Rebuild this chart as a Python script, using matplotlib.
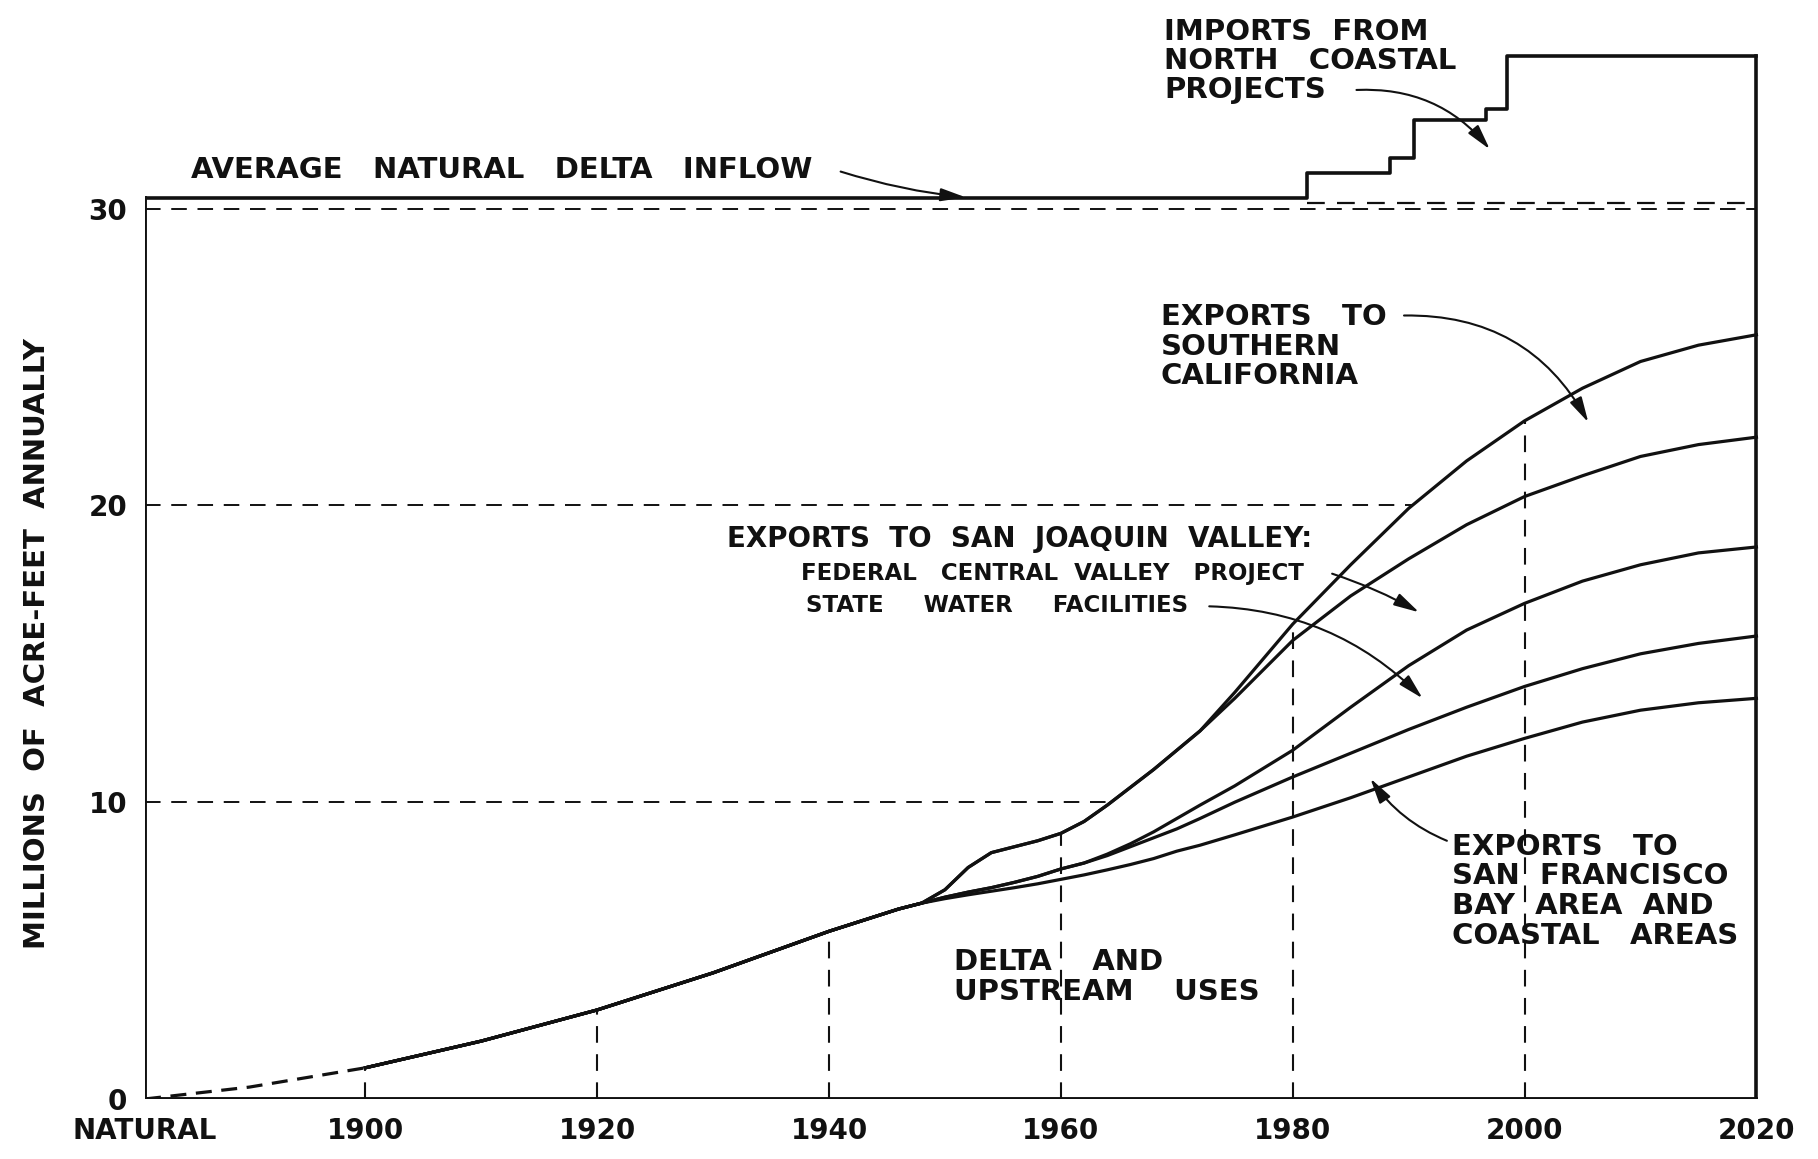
import numpy as np
import matplotlib
matplotlib.use("Agg")
import matplotlib.pyplot as plt

# -----------------------------
# Data (millions of acre-feet per year, cumulative bands)
# -----------------------------
years = [1881, 1890, 1900, 1910, 1920, 1930, 1940, 1944, 1946, 1948, 1950, 1952,
         1954, 1956, 1958, 1960, 1962, 1964, 1966, 1968, 1970, 1972, 1975, 1980,
         1985, 1990, 1995, 2000, 2005, 2010, 2015, 2020]

delta_upstream = [0.0, 0.4, 1.05, 1.95, 3.0, 4.25, 5.65, 6.15, 6.4, 6.6, 6.75, 6.88,
                  7.0, 7.12, 7.25, 7.4, 7.55, 7.72, 7.9, 8.1, 8.35, 8.55, 8.9, 9.5,
                  10.15, 10.85, 11.55, 12.15, 12.7, 13.1, 13.35, 13.5]
plus_sf_bay = [0.0, 0.4, 1.05, 1.95, 3.0, 4.25, 5.65, 6.15, 6.4, 6.6, 6.8, 6.97,
               7.12, 7.3, 7.5, 7.75, 7.95, 8.2, 8.5, 8.8, 9.1, 9.45, 10.0, 10.85,
               11.65, 12.45, 13.2, 13.9, 14.5, 15.0, 15.35, 15.6]
plus_state = [0.0, 0.4, 1.05, 1.95, 3.0, 4.25, 5.65, 6.15, 6.4, 6.6, 6.8, 6.97,
              7.12, 7.3, 7.5, 7.75, 7.95, 8.25, 8.6, 9.0, 9.45, 9.9, 10.55, 11.75,
              13.2, 14.6, 15.8, 16.7, 17.45, 18.0, 18.4, 18.6]
plus_federal = [0.0, 0.4, 1.05, 1.95, 3.0, 4.25, 5.65, 6.15, 6.4, 6.6, 7.05, 7.8,
                8.3, 8.5, 8.7, 8.95, 9.35, 9.9, 10.5, 11.1, 11.75, 12.4, 13.5, 15.45,
                16.95, 18.2, 19.35, 20.3, 21.0, 21.65, 22.05, 22.3]
plus_southern = [0.0, 0.4, 1.05, 1.95, 3.0, 4.25, 5.65, 6.15, 6.4, 6.6, 7.05, 7.8,
                 8.3, 8.5, 8.7, 8.95, 9.35, 9.9, 10.5, 11.1, 11.75, 12.4, 13.7, 16.0,
                 18.0, 19.9, 21.5, 22.85, 23.95, 24.85, 25.4, 25.75]

natural_inflow = 30.35
inflow_later = 30.2
import_years = [1881, 1981.2, 1988.4, 1990.5, 1996.7, 1998.5, 2020]
import_levels = [30.35, 31.2, 31.7, 33.0, 33.35, 35.15, 35.15]

tick_years = [1881, 1900, 1920, 1940, 1960, 1980, 2000, 2020]
tick_labels = ["NATURAL", "1900", "1920", "1940", "1960", "1980", "2000", "2020"]
drop_years = [1900, 1920, 1940, 1960, 1980, 2000]
grid_levels = [10, 20]

INK = "#111111"
FS = 21
DASH = (0, (8, 5.5))

fig = plt.figure(figsize=(18.18, 11.59), dpi=100)
ax = fig.add_axes([0.0798, 0.0518, 0.8927, 0.9474])
ax.set_xlim(1881, 2021)
ax.set_ylim(0, 37)
for s in ax.spines.values():
    s.set_visible(False)

yrs = np.array(years, dtype=float)
curves = [delta_upstream, plus_sf_bay, plus_state, plus_federal, plus_southern]
early = yrs <= 1900
late = yrs >= 1900
for c in curves:
    c = np.array(c)
    ax.plot(yrs[late], c[late], color=INK, lw=2.3, solid_joinstyle="round")
top = np.array(plus_southern)
ax.plot(yrs[early], top[early], color=INK, lw=2.3, linestyle=(0, (5, 3)))

# frame
ax.plot([1881, 2020], [0, 0], color=INK, lw=2.8)
ax.plot([1881, 1881], [0, natural_inflow], color=INK, lw=2.8)
ax.plot([2020, 2020], [0, import_levels[-1]], color=INK, lw=2.6)

# inflow + imports step line
ax.step(import_years, import_levels, where="post", color=INK, lw=2.6)
ax.plot([import_years[1], 2020], [inflow_later, inflow_later], color=INK, lw=1.6,
        linestyle=DASH)
ax.plot([1881, 2020], [30, 30], color=INK, lw=1.4, linestyle=DASH)

# dashed drop lines and partial grid lines up to the top curve
for yr in drop_years:
    v = top[years.index(yr)]
    ax.plot([yr, yr], [0, v], color=INK, lw=1.5, linestyle=DASH)
for lev in grid_levels:
    x_end = np.interp(lev, top, yrs)
    ax.plot([1881, x_end], [lev, lev], color=INK, lw=1.4, linestyle=DASH)

# ticks
ax.set_xticks(tick_years)
ax.set_xticklabels(tick_labels)
ax.set_yticks([0, 10, 20, 30])
ax.tick_params(axis="x", length=0, pad=13, labelsize=20)
ax.tick_params(axis="y", length=0, pad=13, labelsize=20)
for lbl in ax.get_xticklabels() + ax.get_yticklabels():
    lbl.set_fontweight("bold")
    lbl.set_color(INK)

ax.set_ylabel("MILLIONS  OF  ACRE-FEET  ANNUALLY", fontsize=FS, fontweight="bold",
              color=INK)
ax.yaxis.set_label_coords(-0.058, 0.415)

txt = dict(fontsize=FS, fontweight="bold", color=INK, ha="left", va="center",
           linespacing=1.08)
small = dict(txt, fontsize=16.5)

ax.text(1968.9, 34.98, "IMPORTS  FROM\nNORTH   COASTAL\nPROJECTS",
        **dict(txt, linespacing=1.03))
ax.text(1885.0, 31.3, "AVERAGE   NATURAL   DELTA   INFLOW", **txt)
ax.text(1968.6, 25.35, "EXPORTS   TO\nSOUTHERN\nCALIFORNIA", **txt)
ax.text(1931.2, 18.87, "EXPORTS  TO  SAN  JOAQUIN  VALLEY:", **dict(txt, fontsize=20))
ax.text(1937.6, 17.7, "FEDERAL   CENTRAL  VALLEY   PROJECT", **small)
ax.text(1938.0, 16.64, "STATE     WATER     FACILITIES", **small)
ax.text(1950.8, 4.12, "DELTA    AND\nUPSTREAM    USES", **txt)
ax.text(1993.7, 7.0, "EXPORTS   TO\nSAN  FRANCISCO\nBAY  AREA  AND\nCOASTAL   AREAS",
        **txt)

# curved arrows: (start, tip, rad)
arrows = [
    ((1941.0, 31.25), (1951.8, 30.38), 0.05),
    ((1985.5, 34.0), (1997.0, 32.0), -0.25),
    ((1989.6, 26.4), (2005.5, 22.8), -0.3),
    ((1983.4, 17.7), (1990.9, 16.4), -0.05),
    ((1972.8, 16.6), (1991.2, 13.5), -0.2),
    ((1993.3, 8.7), (1986.7, 10.8), -0.15),
]
for (sx, sy), (tx, ty), rad in arrows:
    ax.annotate("", xy=(tx, ty), xytext=(sx, sy),
                arrowprops=dict(arrowstyle="-|>,head_length=0.7,head_width=0.18",
                                connectionstyle=f"arc3,rad={rad}", lw=1.5,
                                color=INK, shrinkA=0, shrinkB=0, mutation_scale=22))

fig.savefig("out.png", dpi=100, facecolor="white")
